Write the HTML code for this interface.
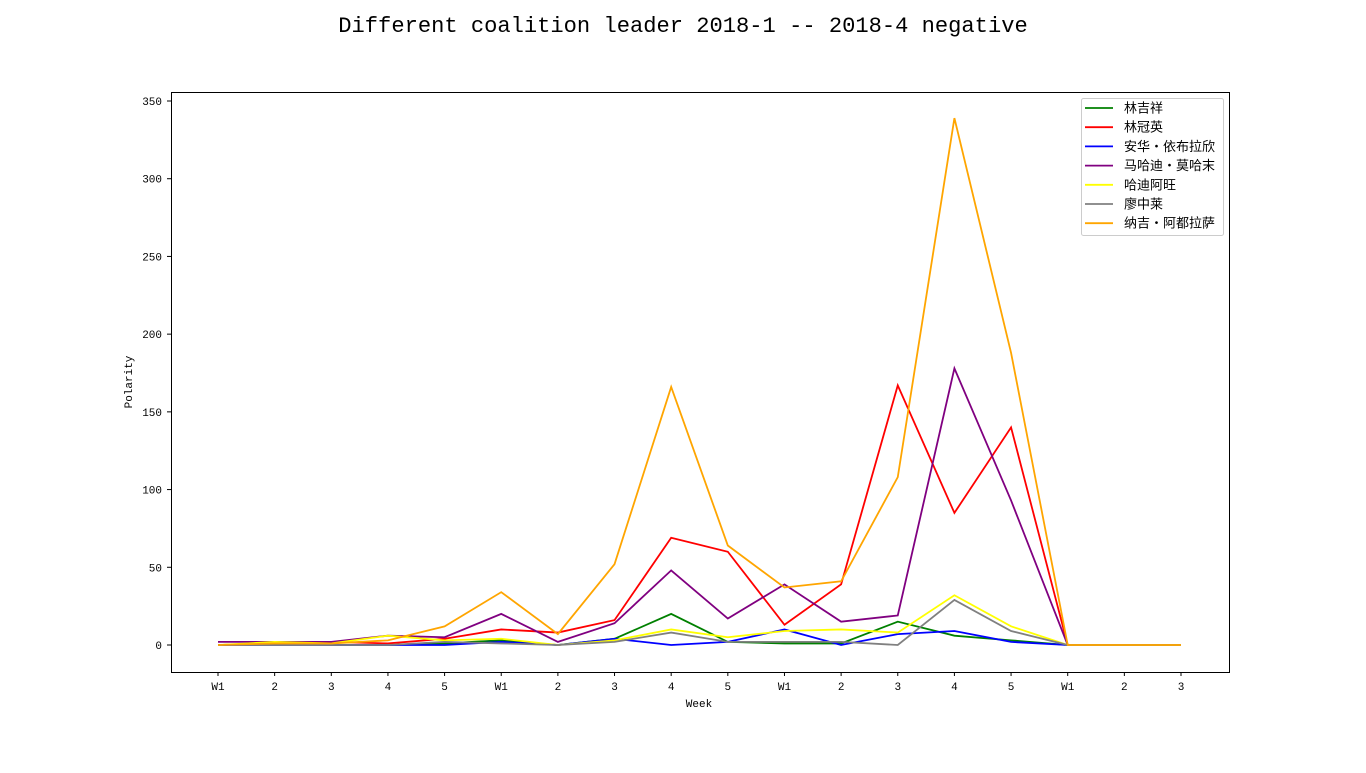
<!DOCTYPE html>
<html><head><meta charset="utf-8"><style>
body{margin:0;background:#fff;width:1366px;height:768px;overflow:hidden}
text{font-family:"Liberation Mono","Noto Sans CJK SC",monospace}
</style></head><body>
<svg id="chart" width="1366" height="768">
<text x="683" y="32" text-anchor="middle" font-size="22.1">Different coalition leader 2018-1 -- 2018-4 negative</text>
<rect x="171.5" y="92.5" width="1058" height="580" fill="none" stroke="#000"/>
<g id="axes"></g><g id="lines"></g><g id="legend"></g>
<text x="699" y="707" text-anchor="middle" font-size="11">Week</text>
<text transform="translate(132,382) rotate(-90)" text-anchor="middle" font-size="11">Polarity</text>
</svg>
<script>
const categories=["W1","2","3","4","5","W1","2","3","4","5","W1","2","3","4","5","W1","2","3"];
const yTicks=[0,50,100,150,200,250,300,350];
const seriesNames=["林吉祥","林冠英","安华・依布拉欣","马哈迪・莫哈末","哈迪阿旺","廖中莱","纳吉・阿都拉萨"];
const seriesColors=["green","red","blue","purple","yellow","gray","orange"];
const s0=[0,1,0,0,1,3,0,4,20,2,1,1,15,6,3,0,0,0];
const s1=[0,1,2,1,4,10,8,16,69,60,13,39,167,85,140,0,0,0];
const s2=[0,0,0,0,0,2,0,4,0,2,10,0,7,9,2,0,0,0];
const s3=[2,2,2,6,5,20,2,14,48,17,39,15,19,178,93,0,0,0];
const s4=[0,2,1,6,3,4,0,3,10,5,9,10,8,32,12,0,0,0];
const s5=[0,0,0,0,2,1,0,2,8,2,2,2,0,29,9,0,0,0];
const s6=[0,1,1,3,12,34,7,52,166,64,37,41,108,339,188,0,0,0];
const series=[s0,s1,s2,s3,s4,s5,s6];
const NS="http://www.w3.org/2000/svg";
const x=i=>218+i*(1181-218)/(categories.length-1);
const y=v=>645-v*(645-101)/350;
function mk(t,a,p){const e=document.createElementNS(NS,t);for(const k in a)e.setAttribute(k,a[k]);p.appendChild(e);return e;}
const ax=document.getElementById('axes');
categories.forEach((c,i)=>{
 const t=mk('line',{x1:x(i),x2:x(i),y1:672,y2:676,stroke:'#000'},ax);
 
 
 const l=mk('text',{x:x(i),y:690,'text-anchor':'middle','font-size':11},ax);l.textContent=c;
 
 
});
yTicks.forEach(v=>{
 const t=mk('line',{x1:167,x2:171,y1:y(v),y2:y(v),stroke:'#000'},ax);
 
 
 const l=mk('text',{x:162,y:y(v)+4,'text-anchor':'end','font-size':11},ax);l.textContent=v;
 
 
});
const lg=document.getElementById('lines');
series.forEach((s,k)=>{
 const p=mk('polyline',{points:s.map((v,i)=>x(i)+','+y(v)).join(' '),fill:'none',stroke:seriesColors[k],'stroke-width':1.8},lg);
 
 
});
const leg=document.getElementById('legend');
const box=mk('rect',{x:1081.5,y:98.5,width:142,height:137,rx:2,fill:'#fff',stroke:'#ccc'},leg);


seriesNames.forEach((n,k)=>{
 const yy=108+k*19.2;
 const l=mk('line',{x1:1085,x2:1113,y1:yy,y2:yy,stroke:seriesColors[k],'stroke-width':1.8},leg);
 
 
 const t=mk('text',{x:1124,y:yy+4.5,'font-size':13},leg);t.textContent=n;
 
 
});
</script>
</body></html>
